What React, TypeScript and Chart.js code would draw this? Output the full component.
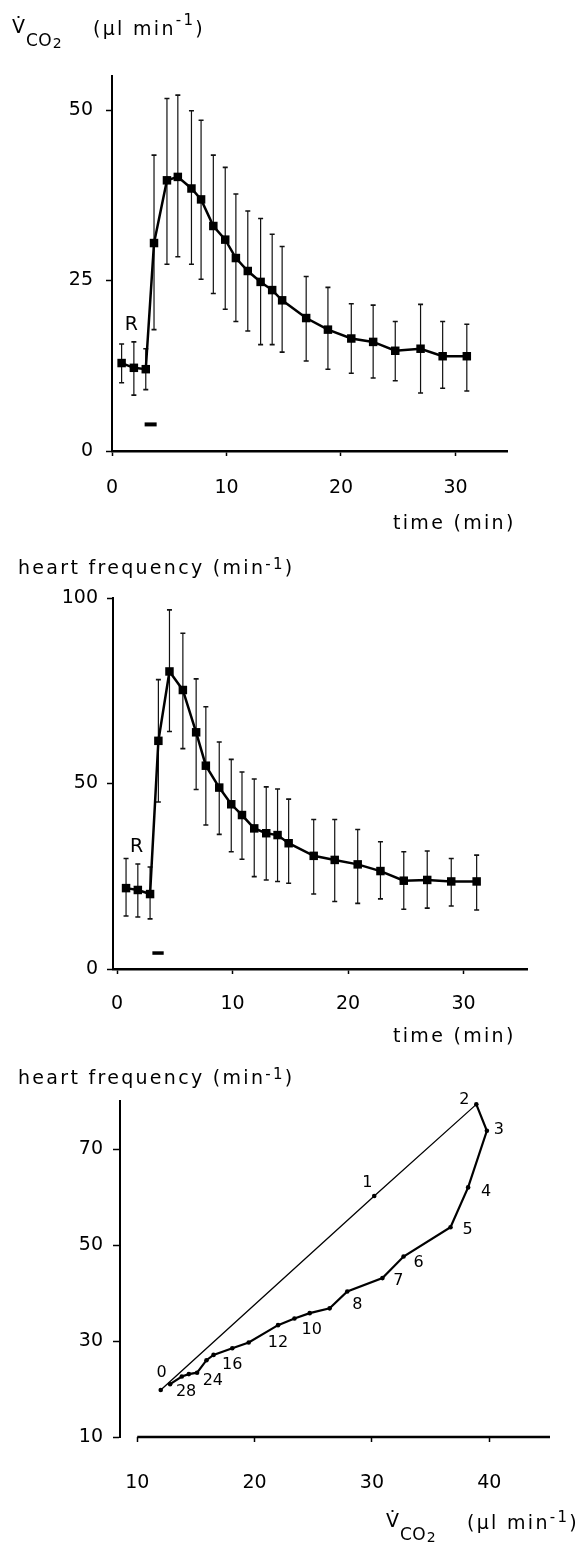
import React, { useEffect, useRef } from 'react';
import { Chart, registerables } from 'chart.js';

Chart.register(...registerables);

// ---------------- DATA ----------------
// Panel A: CO2 release vs time (mean with upper / lower error bar ends)
const vco2Times = [0.84, 1.91, 2.95, 3.67, 4.8, 5.75, 6.94, 7.78, 8.85, 9.89, 10.82, 11.86, 12.98, 13.99, 14.86, 16.96, 18.86, 20.9, 22.81, 24.74, 26.95, 28.88, 30.99];
const vco2Mean = [12.9, 12.2, 12.0, 30.5, 39.7, 40.2, 38.5, 36.9, 33.0, 31.0, 28.3, 26.4, 24.8, 23.6, 22.1, 19.5, 17.8, 16.5, 16.0, 14.7, 15.0, 13.9, 13.9];
const vco2Upper = [15.7, 16.0, 15.0, 43.4, 51.7, 52.2, 49.9, 48.5, 43.4, 41.6, 37.7, 35.2, 34.1, 31.8, 30.0, 25.6, 24.0, 21.6, 21.4, 19.0, 21.5, 19.0, 18.6];
const vco2Lower = [10.0, 8.2, 9.0, 17.8, 27.4, 28.5, 27.4, 25.2, 23.1, 20.8, 19.0, 17.6, 15.6, 15.6, 14.5, 13.2, 12.0, 11.4, 10.7, 10.3, 8.5, 9.2, 8.8];
const vco2Ticks = [0, 25, 50];
const timeTicks = [0, 10, 20, 30];
const stimulusVco2 = [2.85, 3.9];
const stimulusVco2Level = 3.9;
const restLabelVco2 = { x: 1.7, y: 18.4, text: 'R' };

// Panel B: heart frequency vs time
const hrTimes = [0.78, 1.8, 2.86, 3.58, 4.54, 5.7, 6.85, 7.69, 8.85, 9.89, 10.82, 11.88, 12.92, 13.9, 14.86, 17.03, 18.85, 20.84, 22.81, 24.83, 26.86, 28.94, 31.14];
const hrMean = [21.8, 21.3, 20.2, 61.5, 80.2, 75.2, 63.8, 54.8, 48.9, 44.4, 41.5, 37.9, 36.6, 36.1, 33.9, 30.5, 29.4, 28.2, 26.4, 23.8, 24.0, 23.6, 23.6];
const hrUpper = [29.8, 28.3, 27.5, 78.0, 96.8, 90.5, 78.2, 70.7, 61.2, 56.5, 53.1, 51.2, 49.1, 48.5, 45.8, 40.3, 40.3, 37.6, 34.3, 31.6, 31.8, 29.8, 30.7];
const hrLower = [14.3, 14.0, 13.5, 45.0, 64.0, 59.4, 48.4, 38.8, 36.3, 31.6, 29.6, 24.9, 24.0, 23.6, 23.1, 20.2, 18.2, 17.7, 18.9, 16.1, 16.4, 17.0, 15.9];
const hrTicks = [0, 50, 100];
const stimulusHr = [3.06, 4.04];
const stimulusHrLevel = 4.3;
const restLabelHr = { x: 1.7, y: 33, text: 'R' };

// Panel C: heart frequency vs CO2 release (loop)
const loopVco2 = [12.0, 30.2, 38.9, 39.8, 38.2, 36.7, 32.7, 30.9, 27.9, 26.4, 24.7, 23.4, 22.0, 19.5, 18.1, 16.5, 15.9, 15.1, 14.4, 13.8, 12.8];
const loopHr = [19.8, 60.2, 79.3, 73.8, 62.0, 53.7, 47.6, 43.1, 40.3, 36.8, 35.8, 34.7, 33.3, 29.7, 28.5, 27.1, 26.0, 23.4, 23.1, 22.6, 21.0];
const loopLabels = ['0', '1', '2', '3', '4', '5', '6', '7', '8', '', '10', '', '12', '', '16', '', '', '', '24', '', '28'];
const loopXTicks = [10, 20, 30, 40];
const loopYTicks = [10, 30, 50, 70];
const loopAxisStart = 10;

// ---------------- STYLE HELPERS ----------------
const FONT = "'DejaVu Sans', 'Liberation Sans', sans-serif";
const loopLabelOffsets: Record<string, [number, number]> = {
  '0': [1, -17], '1': [-7, -13], '2': [-12, -5], '3': [12, -1], '4': [18, 4], '5': [17, 3],
  '6': [15, 6], '7': [16, 3], '8': [10, 13], '10': [2, 17], '12': [0, 18], '16': [0, 17],
  '24': [24, 7], '28': [16, 8],
};

const fixTicks = (vals: number[]) => (scale: any) => {
  scale.ticks = vals.map((v) => ({ value: v }));
};

function errorBars(xs: number[], up: number[], lo: number[]) {
  return {
    id: 'errorBars',
    beforeDatasetsDraw(chart: any) {
      const { ctx } = chart;
      const x = chart.scales.x;
      const y = chart.scales.y;
      ctx.save();
      ctx.strokeStyle = '#111';
      xs.forEach((t: number, i: number) => {
        const px = x.getPixelForValue(t);
        const pu = y.getPixelForValue(up[i]);
        const pl = y.getPixelForValue(lo[i]);
        ctx.lineWidth = 1.2;
        ctx.beginPath();
        ctx.moveTo(px, pu);
        ctx.lineTo(px, pl);
        ctx.stroke();
        ctx.lineWidth = 1.6;
        ctx.beginPath();
        ctx.moveTo(px - 2.5, pu);
        ctx.lineTo(px + 2.5, pu);
        ctx.moveTo(px - 2.5, pl);
        ctx.lineTo(px + 2.5, pl);
        ctx.stroke();
      });
      ctx.restore();
    },
  };
}

function dataText(items: { x: number; y: number; text: string }[], size: number) {
  return {
    id: 'dataText',
    afterDatasetsDraw(chart: any) {
      const { ctx } = chart;
      ctx.save();
      ctx.fillStyle = '#000';
      ctx.font = `${size}px ${FONT}`;
      ctx.textAlign = 'center';
      ctx.textBaseline = 'middle';
      items.forEach((it) => {
        ctx.fillText(it.text, chart.scales.x.getPixelForValue(it.x), chart.scales.y.getPixelForValue(it.y));
      });
      ctx.restore();
    },
  };
}

const loopLabelPlugin = {
  id: 'loopLabels',
  afterDatasetsDraw(chart: any) {
    const { ctx } = chart;
    const meta = chart.getDatasetMeta(0);
    ctx.save();
    ctx.fillStyle = '#000';
    ctx.font = `16px ${FONT}`;
    ctx.textAlign = 'center';
    ctx.textBaseline = 'middle';
    loopLabels.forEach((lab, i) => {
      if (!lab) return;
      const p = meta.data[i];
      const off = loopLabelOffsets[lab] || [0, 0];
      ctx.fillText(lab, p.x + off[0], p.y + off[1]);
    });
    ctx.restore();
  },
};

const loopXAxisLine = {
  id: 'loopXAxisLine',
  afterDraw(chart: any) {
    const { ctx, chartArea } = chart;
    const x = chart.scales.x;
    ctx.save();
    ctx.strokeStyle = '#000';
    ctx.lineWidth = 2.5;
    ctx.beginPath();
    ctx.moveTo(x.getPixelForValue(loopAxisStart), chartArea.bottom);
    ctx.lineTo(chartArea.right, chartArea.bottom);
    ctx.stroke();
    ctx.restore();
  },
};

function axisCommon(tickLength: number, padding: number, borderWidth: number, showBorder = true) {
  return {
    grid: { display: true, drawOnChartArea: false, drawTicks: true, tickLength, color: '#000', tickWidth: 1.5 },
    border: { display: showBorder, color: '#000', width: borderWidth },
    ticks: { padding, color: '#000', font: { family: FONT, size: 19 }, maxRotation: 0, autoSkip: false },
  };
}

function timeSeriesConfig(opts: any) {
  const { times, mean, upper, lower, stim, stimLevel, stimWidth, rest, yTicks, xMin, xMax, yMax, pad, yWidth, xPad, yPad } = opts;
  return {
    type: 'line',
    data: {
      datasets: [
        {
          data: times.map((t: number, i: number) => ({ x: t, y: mean[i] })),
          borderColor: '#000',
          backgroundColor: '#000',
          borderWidth: 2.5,
          pointStyle: 'rect',
          pointRadius: 6,
          pointBackgroundColor: '#000',
          pointBorderWidth: 0,
          tension: 0,
        },
        {
          data: stim.map((t: number) => ({ x: t, y: stimLevel })),
          borderColor: '#000',
          borderWidth: stimWidth,
          pointRadius: 0,
          borderCapStyle: 'butt',
        },
      ],
    },
    options: {
      responsive: false,
      animation: false,
      devicePixelRatio: 1,
      layout: { padding: pad },
      plugins: { legend: { display: false }, tooltip: { enabled: false } },
      scales: {
        x: {
          type: 'linear',
          min: xMin,
          max: xMax,
          afterBuildTicks: fixTicks(timeTicks),
          afterFit: (s: any) => { s.height = 60; },
          ...axisCommon(5, xPad, 2.5),
        },
        y: {
          type: 'linear',
          min: 0,
          max: yMax,
          afterBuildTicks: fixTicks(yTicks),
          afterFit: (s: any) => { s.width = yWidth; },
          ...axisCommon(6, yPad, 2),
        },
      },
    },
    plugins: [errorBars(times, upper, lower), dataText([rest], 19)],
  };
}

const loopConfig = () => ({
  type: 'line',
  data: {
    datasets: [
      {
        data: loopVco2.map((v, i) => ({ x: v, y: loopHr[i] })),
        borderColor: '#000',
        backgroundColor: '#000',
        borderWidth: 2.2,
        pointRadius: 2.3,
        pointBackgroundColor: '#000',
        pointBorderWidth: 0,
        tension: 0,
        segment: { borderWidth: (c: any) => (c.p0DataIndex < 2 ? 1.3 : 2.2) },
      },
    ],
  },
  options: {
    responsive: false,
    animation: false,
    devicePixelRatio: 1,
    layout: { padding: { left: 0, right: 31, top: 41, bottom: 36 } },
    plugins: { legend: { display: false }, tooltip: { enabled: false } },
    scales: {
      x: {
        type: 'linear',
        min: 8.53,
        max: 45.18,
        afterBuildTicks: fixTicks(loopXTicks),
        afterFit: (s: any) => { s.height = 70; },
        ...axisCommon(5, 30, 2.5, false),
      },
      y: {
        type: 'linear',
        min: 10,
        max: 80,
        afterBuildTicks: fixTicks(loopYTicks),
        afterFit: (s: any) => { s.width = 120; },
        ...axisCommon(7, 10, 2),
      },
    },
  },
  plugins: [loopXAxisLine, loopLabelPlugin],
});

// ---------------- COMPONENTS ----------------
function ChartCanvas({ top, height, build }: { top: number; height: number; build: () => any }) {
  const ref = useRef<HTMLCanvasElement>(null);
  useEffect(() => {
    const chart = new Chart(ref.current as HTMLCanvasElement, build());
    return () => chart.destroy();
  }, []);
  return (
    <canvas
      ref={ref}
      width={581}
      height={height}
      style={{ position: 'absolute', left: 0, top, width: 581, height }}
    />
  );
}

const textBase: React.CSSProperties = {
  position: 'absolute',
  fontFamily: FONT,
  fontSize: 19,
  lineHeight: '19px',
  letterSpacing: '2.3px',
  whiteSpace: 'nowrap',
  color: '#000',
};

// baseline ≈ top + 16 for 19px DejaVu Sans with 19px line-height
function Txt({ x, baseline, children, style }: any) {
  return <div style={{ ...textBase, left: x, top: baseline - 16, ...style }}>{children}</div>;
}

function Vco2Title({ x, baseline, supRaise }: { x: number; baseline: number; supRaise: number }) {
  return (
    <>
      <Txt x={x} baseline={baseline}>V̇</Txt>
      <Txt x={x + 14} baseline={baseline + 14} style={{ fontSize: 17, letterSpacing: '0.3px' }}>
        CO<span style={{ fontSize: 14, position: 'relative', top: 2, marginLeft: 1 }}>2</span>
      </Txt>
      <Txt x={x + 81} baseline={baseline + 2}>
        (µl min<span style={{ fontSize: 15, position: 'relative', top: -supRaise }}>-1</span>)
      </Txt>
    </>
  );
}

function HrTitle({ x, baseline }: { x: number; baseline: number }) {
  return (
    <Txt x={x} baseline={baseline}>
      heart frequency (min<span style={{ fontSize: 15, position: 'relative', top: -5 }}>-1</span>)
    </Txt>
  );
}

export default function App() {
  return (
    <div style={{ position: 'absolute', left: 0, top: 0, width: 581, height: 1543, background: '#fff', overflow: 'hidden' }}>
      <ChartCanvas
        top={0}
        height={545}
        build={() =>
          timeSeriesConfig({
            times: vco2Times, mean: vco2Mean, upper: vco2Upper, lower: vco2Lower,
            stim: stimulusVco2, stimLevel: stimulusVco2Level, stimWidth: 4, rest: restLabelVco2,
            yTicks: vco2Ticks, xMin: 0, xMax: 34.5, yMax: 55,
            pad: { left: 0, right: 74, top: 76, bottom: 34 }, yWidth: 112, xPad: 21, yPad: 13,
          })
        }
      />
      <ChartCanvas
        top={545}
        height={515}
        build={() =>
          timeSeriesConfig({
            times: hrTimes, mean: hrMean, upper: hrUpper, lower: hrLower,
            stim: stimulusHr, stimLevel: stimulusHrLevel, stimWidth: 3.5, rest: restLabelHr,
            yTicks: hrTicks, xMin: -0.35, xMax: 35.5, yMax: 100,
            pad: { left: 0, right: 54, top: 53, bottom: 31 }, yWidth: 113, xPad: 18.5, yPad: 9,
          })
        }
      />
      <ChartCanvas top={1060} height={483} build={loopConfig} />

      <Vco2Title x={12} baseline={33} supRaise={10} />
      <Txt x={393} baseline={529}>time (min)</Txt>
      <HrTitle x={18} baseline={574} />
      <Txt x={393} baseline={1042}>time (min)</Txt>
      <HrTitle x={18} baseline={1084} />
      <Vco2Title x={386} baseline={1527} supRaise={7} />
    </div>
  );
}
